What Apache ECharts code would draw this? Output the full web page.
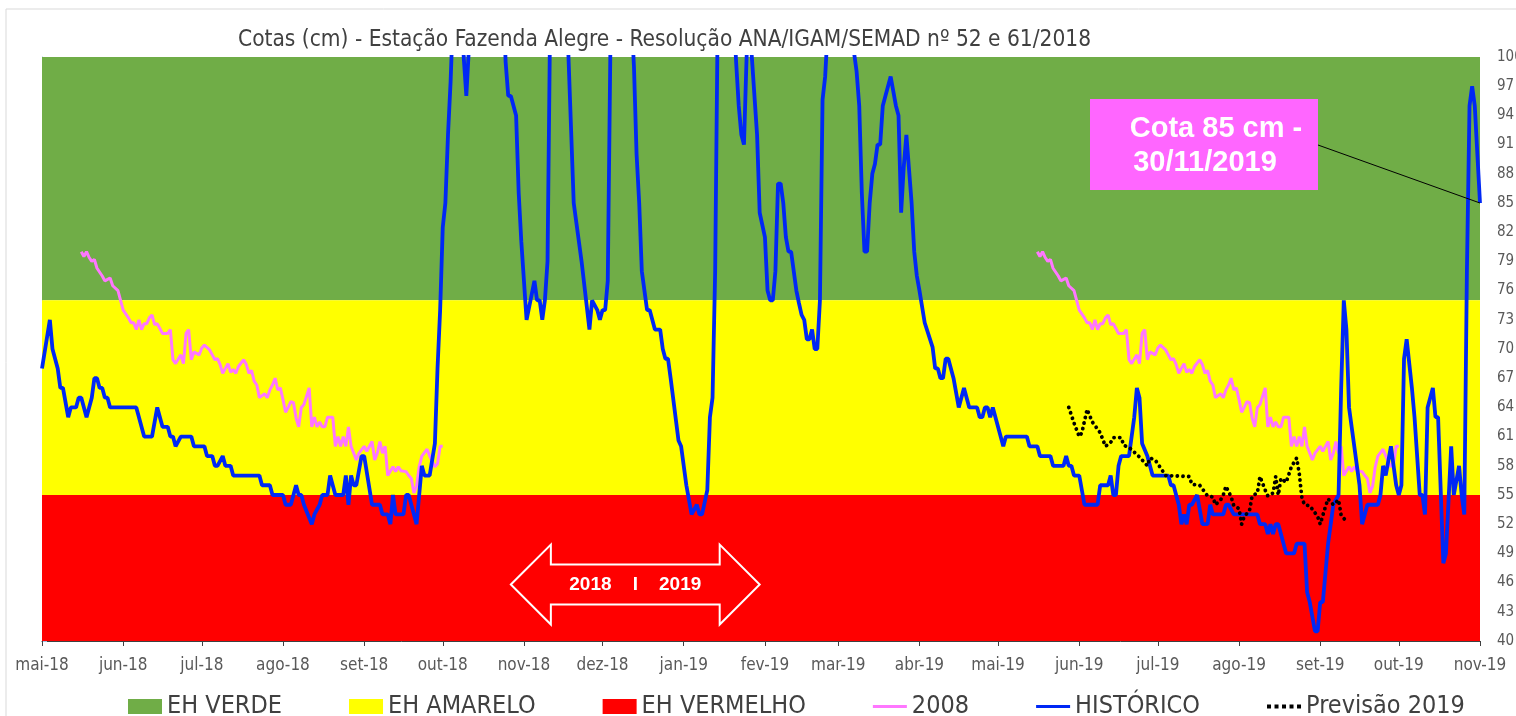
<!DOCTYPE html>
<html><head><meta charset="utf-8">
<script src="https://cdn.jsdelivr.net/npm/echarts@6/dist/echarts.min.js"></script>
<style>html,body{margin:0;padding:0;background:#fff;}#c{width:1516px;height:716px;}</style>
</head><body><div id="c"></div>
<script>
// ---- DATA ----
const monthLabels = ['mai-18','jun-18','jul-18','ago-18','set-18','out-18','nov-18','dez-18','jan-19','fev-19','mar-19','abr-19','mai-19','jun-19','jul-19','ago-19','set-19','out-19','nov-19'];
const yTicks = [40,43,46,49,52,55,58,61,64,67,70,73,76,79,82,85,88,91,94,97,100];
const bandNames = ['EH VERDE','EH AMARELO','EH VERMELHO'];
const bandLimits = [[75,100],[55,75],[40,55]];
// days counted from 01/05/2018
const histDays = [0,3,4,6,7,8,10,11,13,14,15,17,19,20,21,22,23,24,25,26,36,39,42,44,46,48,49,50,51,53,57,58,62,63,65,66,67,69,70,72,73,83,84,87,88,92,93,95,97,98,99,100,103,104,106,107,109,110,112,115,116,117,118,119,120,122,123,126,129,130,132,133,134,135,138,139,140,142,143,145,146,148,150,151,152,153,154,155,156,157,158,160,161,162,163,165,175,177,178,179,181,182,183,185,188,189,190,191,192,193,194,200,201,203,204,206,209,210,212,213,214,215,216,217,224,226,227,228,229,231,232,234,236,237,238,239,240,243,244,246,248,250,251,252,254,255,256,257,258,263,265,266,267,268,269,270,271,273,274,276,277,278,279,280,281,282,283,284,285,286,288,289,290,291,292,293,294,295,296,297,298,299,300,309,310,311,312,313,314,315,316,317,318,319,320,321,322,323,324,325,326,327,328,329,330,332,333,334,335,337,340,341,342,343,344,345,346,347,348,350,352,354,357,358,359,360,361,362,363,367,368,376,377,380,381,385,386,390,391,392,393,394,396,398,403,404,407,408,409,410,411,412,415,417,418,419,420,422,424,430,431,432,434,435,436,437,438,439,441,443,445,446,447,451,452,453,455,464,465,467,468,469,470,471,472,473,475,478,479,482,483,484,486,487,488,489,491,493,495,496,497,498,499,501,503,504,506,510,511,512,513,515,517,518,519,520,521,523,524,526,527,528,529,531,532,533,535,536,538,539,541,542,543,544,545,546,547,548,549];
const histVals = [68,73,70,68,66,66,63,64,64,65,65,63,65,67,67,66,66,65,65,64,64,61,61,64,62,62,61,61,60,61,61,60,60,59,59,58,58,59,58,58,57,57,56,56,55,55,54,54,56,55,55,54,52,53,54,55,55,57,55,55,57,54,57,56,56,59,59,54,54,53,53,52,55,53,53,55,55,53,52,58,57,57,60.3,68,74,82.5,85,92,97.5,105,112,108,100,96,101,115,115,99.5,96,96,94,86,81,73,77,75,75,73,75,79,104,110,100,85,83,79,72,75,74,73,74,74,77,101,110,99,90,85,78,74,74,72,72,70,69,69,67,60.6,60,56,53,54,53,53,55.5,63,65,78,105,110,99.5,95,92,91,100,104,100,92,84,81.5,76,75,75,78,87,87,85,81.5,80,80,76,74.7,73.5,73,71,71,72,70,70,75,95.6,98,103,106,100.5,98.5,95,86,80,80,85,88,89,91,91,95,96,97,98,96.5,95,94,84,88.7,92,85,80,77.5,76,72.7,70.2,68,68,67,67,69,69,68,67,64,66,64,64,63,63,64,64,63,64,60,61,61,60,60,59,59,58,58,59,58,58,57,57,54,54,56,56,57,55,55,58,59,59,63,66,65,60.3,59,57,57,56,56,54,52,53,52,54,54,55,52,52,54,53,53,54,54,53,53,52,52,51,52,51,52,52,51,49,49,50,50,45,44,41,41,44,44,50,54,55,66,75,72,64,60,56,52,54,54,55,58,57,60,56,55,56,69,71,66,63,55,55,53,64,66,63,63,48,49,60,55,58,55,53,78,95,97,95,90,85];
// 2008 reference curve (drawn in both years of the window)
const days2008 = [15,16,17,18,19,20,21,23,24,26,27,29,31,33,34,35,36,37,38,39,40,41,42,43,44,45,46,48,49,50,51,53,54,55,56,57,58,60,61,62,64,65,66,67,68,69,71,72,73,74,75,77,78,79,80,81,82,83,85,86,87,88,89,90,91,92,93,94,95,96,97,98,99,100,102,103,104,105,106,107,108,109,111,112,113,114,115,116,117,118,120,121,123,124,126,127,128,129,130,131,132,134,135,136,137,139,140,141,142,143,144,145,147,148,150,151,152,153];
const vals2008 = [80,79.5,80,79.4,79,79.2,78.3,77.5,77,77.3,76.5,76,74,73.2,72.7,72.7,72,73,72,72.6,72.6,73.2,73.5,72.5,72.6,72.1,71.6,71.6,72,68.9,68.5,69.4,68.5,71.6,72,68.9,69.7,69.4,70.1,70.4,69.9,69.4,68.9,69,68.4,67.5,68.5,67.6,67.9,67.5,68.2,68.9,68.4,67.5,67.8,66.7,66.3,65,65.4,65,65.8,66.3,67,65.8,66,64.8,63.5,64,64.6,64.5,62.9,62,64,64.3,66,62,63,62,62.5,62,62,63,63,60,61,60,61,60,62,60,58.6,59.3,60,59.5,60.5,58.6,59.3,60.5,59.3,60,57,57.9,57.4,57.9,57.5,57.4,57,56.7,55.2,55.9,57.9,59,59.7,59,57.9,58.2,60,60];
const days2008Years = [0, 365];
const prevDays = [392,394,396,397,399,401,404,406,408,409,412,413,415,419,422,423,425,429,438,439,442,445,447,448,450,451,452,454,455,457,458,459,461,462,464,465,467,468,470,471,472,473,475,477,479,480,481,482,484,487,488,490,491,493,495,496,498];
const prevVals = [64,62.4,61,61.4,63.8,62.5,61.4,60,60.4,60.9,60.9,60.1,59.9,58.9,58,58.8,58.6,57,56.9,56.1,56,54.9,54.8,54,54.5,55,55.9,54.8,53.9,53.6,52,52.8,53.4,54.9,55.2,56.9,55.5,54.9,55.2,56.9,55,56.7,56.3,57.9,58.8,57.2,54.7,54,53.9,52.8,52,53.8,54.6,54,54.5,52.9,52.3];
const noteText = ['Cota 85 cm -', '30/11/2019'];
const arrowText = '2018    I    2019';

// ---- BUILD ----
const t0 = Date.UTC(2018, 4, 1);
const monthDays = monthLabels.map((l, i) => Math.round((Date.UTC(2018, 4 + i, 1) - t0) / 86400000));
const xMax = monthDays[monthDays.length - 1];
const zip = (a, b) => a.map((d, i) => [d, b[i]]);
const FONT = "'Liberation Sans Narrow','DejaVu Sans Condensed','Noto Sans',sans-serif";
const bandColors = ['#70AD47', '#FFFF00', '#FF0000'];
const lineIcon = 'path://M0,0H34V3.2H0Z';
const dotIcon = 'path://M0,0h3.2v3.2h-3.2zM6,0h3.2v3.2h-3.2zM12,0h3.2v3.2h-3.2zM18,0h3.2v3.2h-3.2zM24,0h3.2v3.2h-3.2z';

const series = [];
bandNames.forEach((n, i) => {
  series.push({
    name: n, type: 'line', data: [], z: 1, silent: true,
    itemStyle: { color: bandColors[i] },
    markArea: { silent: true, itemStyle: { color: bandColors[i], opacity: 1 },
      data: [[{ yAxis: bandLimits[i][0] }, { yAxis: bandLimits[i][1] }]] }
  });
});
days2008Years.forEach(off => {
  series.push({
    name: '2008', type: 'line', symbol: 'none', z: 3,
    lineStyle: { color: '#FF77FF', width: 3 }, itemStyle: { color: '#FF77FF' },
    data: zip(days2008.map(d => d + off), vals2008)
  });
});
series.push({
  name: 'HISTÓRICO', type: 'line', symbol: 'none', z: 4,
  lineStyle: { color: '#0028F5', width: 3.8 }, itemStyle: { color: '#0028F5' },
  data: zip(histDays, histVals)
});
series.push({
  name: 'Previsão 2019', type: 'line', symbol: 'none', z: 5,
  lineStyle: { color: '#000', width: 3.8, type: [0.1, 5.6], cap: 'round' }, itemStyle: { color: '#000' },
  data: zip(prevDays, prevVals)
});

const chart = echarts.init(document.getElementById('c'), null, { renderer: 'canvas' });
chart.setOption({
  animation: false,
  backgroundColor: '#fff',
  title: { text: 'Cotas (cm) - Estação Fazenda Alegre - Resolução ANA/IGAM/SEMAD nº 52 e 61/2018',
    left: 233, top: 24, textStyle: { fontFamily: FONT, fontSize: 22.5, fontWeight: 'normal', color: '#404040' } },
  grid: { left: 42, right: 36, top: 57, bottom: 75, outerBoundsMode: 'none' },
  legend: {
    bottom: -8, left: 123, itemGap: 67, itemWidth: 34, itemHeight: 15,
    textStyle: { fontFamily: FONT, fontSize: 25, color: '#404040' },
    data: [
      { name: bandNames[0], icon: 'rect' }, { name: bandNames[1], icon: 'rect' }, { name: bandNames[2], icon: 'rect' },
      { name: '2008', icon: lineIcon }, { name: 'HISTÓRICO', icon: lineIcon }, { name: 'Previsão 2019', icon: dotIcon }
    ]
  },
  xAxis: {
    type: 'value', min: 0, max: xMax,
    splitLine: { show: false },
    axisLine: { onZero: false, lineStyle: { color: '#404040', width: 1 } },
    axisTick: { customValues: monthDays, length: 5, lineStyle: { color: '#404040' } },
    axisLabel: { customValues: monthDays, margin: 16, fontFamily: FONT, fontSize: 17, color: '#595959',
      formatter: v => monthLabels[monthDays.indexOf(Math.round(v))] || '' }
  },
  yAxis: {
    type: 'value', position: 'right', min: 40, max: 100, interval: 3,
    splitLine: { show: false },
    axisLine: { show: true, lineStyle: { color: '#9DC3E6', width: 1 } },
    axisTick: { show: true, length: 5, lineStyle: { color: '#9DC3E6' } },
    minorTick: { show: true, splitNumber: 8, length: 4, lineStyle: { color: '#9DC3E6' } },
    axisLabel: { customValues: yTicks, margin: 17, fontFamily: FONT, fontSize: 15, color: '#595959' }
  },
  series: series
});

// annotations
const endPt = chart.convertToPixel({ gridIndex: 0 }, [histDays[histDays.length - 1], histVals[histVals.length - 1]]);
const a0 = chart.convertToPixel({ gridIndex: 0 }, [179, 45.8]);
const a1 = chart.convertToPixel({ gridIndex: 0 }, [274, 45.8]);
const ay = a0[1];
const ax0 = a0[0], ax1 = a1[0];
const hh = 40, bh = 20, hl = 40;
const BOLD = "'Liberation Sans','Noto Sans',sans-serif";
chart.setOption({
  graphic: [
    { type: 'line', shape: { x1: 6, y1: 9, x2: 1516, y2: 9 }, style: { stroke: '#D9D9D9', lineWidth: 1 }, z: 0 },
    { type: 'line', shape: { x1: 6, y1: 9, x2: 6, y2: 716 }, style: { stroke: '#D9D9D9', lineWidth: 1 }, z: 0 },
    { type: 'line', shape: { x1: 1318, y1: 145, x2: endPt[0], y2: endPt[1] }, style: { stroke: '#000', lineWidth: 1 }, z: 100 },
    { type: 'rect', shape: { x: 1090, y: 99, width: 228, height: 91 }, style: { fill: '#FF66FF' }, z: 100 },
    { type: 'text', x: 1216, y: 129, style: { text: noteText[0], fill: '#fff', font: "bold 29px " + BOLD, textAlign: 'center', textVerticalAlign: 'middle' }, z: 101 },
    { type: 'text', x: 1205, y: 163, style: { text: noteText[1], fill: '#fff', font: "bold 29px " + BOLD, textAlign: 'center', textVerticalAlign: 'middle' }, z: 101 },
    { type: 'polygon', z: 100, shape: { points: [
        [ax0, ay], [ax0 + hl, ay - hh], [ax0 + hl, ay - bh], [ax1 - hl, ay - bh], [ax1 - hl, ay - hh], [ax1, ay],
        [ax1 - hl, ay + hh], [ax1 - hl, ay + bh], [ax0 + hl, ay + bh], [ax0 + hl, ay + hh]] },
      style: { fill: '#FF0000', stroke: '#fff', lineWidth: 2 } },
    { type: 'text', x: (ax0 + ax1) / 2, y: ay, z: 101, style: { text: arrowText, fill: '#fff', font: "bold 19px " + BOLD, textAlign: 'center', textVerticalAlign: 'middle' } }
  ]
});
</script></body></html>
